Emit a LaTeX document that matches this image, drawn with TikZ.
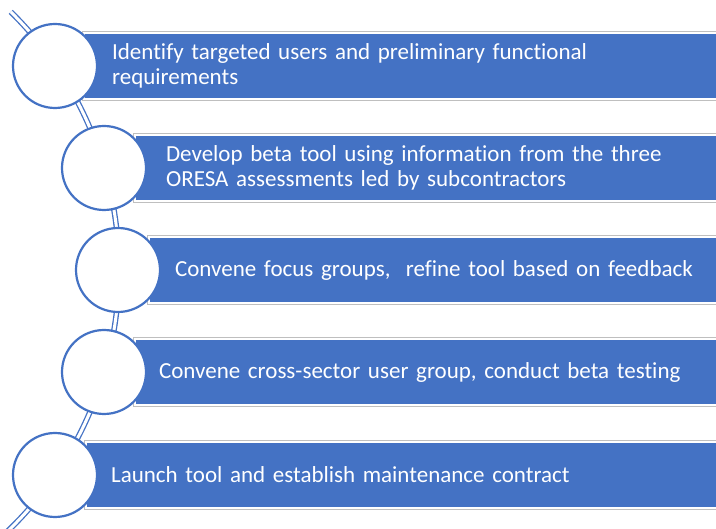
\documentclass[tikz,border=0pt]{standalone}
\usepackage{fontspec}
\setmainfont{Carlito}[Ligatures=NoCommon]
\usepackage{xcolor}
\usetikzlibrary{positioning}
\definecolor{stepblue}{RGB}{68,114,196}
\definecolor{edgegrey}{RGB}{191,191,191}

\begin{document}
\begin{tikzpicture}[x=1pt,y=-1pt,
    bar/.style={anchor=west, fill=stepblue, draw=white, line width=2.2pt,
      preaction={draw=edgegrey, line width=4.8pt},
      minimum height=66pt, text=white, align=left,
      font=\fontsize{23}{25}\selectfont},
    dot/.style={circle, minimum size=84pt, inner sep=0pt, fill=white,
      draw=stepblue, line width=2.2pt},
    spine/.style={draw=stepblue, double=white, line width=1.3pt, double distance=3pt}]
      \useasboundingbox (0,0) rectangle (716,529);
      % curved spine behind the circles
      \draw[spine] ([shift={(-45.5:362)}]-243,270) arc[start angle=-45.5, end angle=47, radius=362];
      % bars
      \node[bar, inner xsep=28pt, text width=605pt] at (83,66) (b1)
        {Identify targeted users and preliminary functional\\requirements};
      \node[bar, inner xsep=31pt, text width=551pt] at (134,168) (b2)
        {Develop beta tool using information from the three\\ORESA assessments led by subcontractors};
      \node[bar, inner xsep=26pt, text width=542pt] at (148,270) (b3)
        {Convene focus groups,\ \ refine tool based on feedback};
      \node[bar, inner xsep=24pt, text width=558pt] at (134,372) (b4)
        {Convene cross-sector user group, conduct beta testing};
      \node[bar, inner xsep=25pt, text width=606pt] at (85,475) (b5)
        {Launch tool and establish maintenance contract};
      % circles
      \node[dot] at (55,66) (c1) {};
      \node[dot] at (104,168) (c2) {};
      \node[dot] at (118,270) (c3) {};
      \node[dot] at (104,372) (c4) {};
      \node[dot] at (55,475) (c5) {};
    \end{tikzpicture}
\end{document}
